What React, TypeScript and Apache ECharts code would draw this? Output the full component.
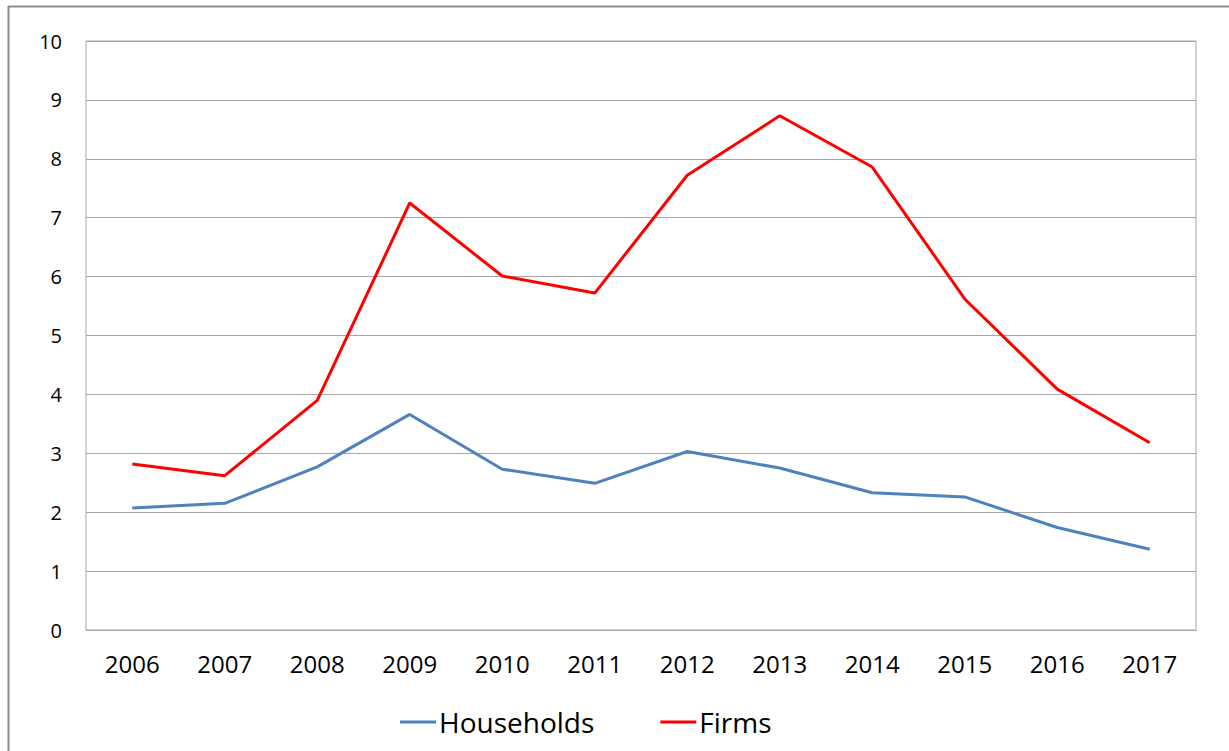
import React, { useEffect, useRef } from "react";
import * as echarts from "echarts";

const years = ["2006", "2007", "2008", "2009", "2010", "2011", "2012", "2013", "2014", "2015", "2016", "2017"];
const households = [2.07, 2.15, 2.77, 3.66, 2.73, 2.49, 3.03, 2.75, 2.33, 2.26, 1.74, 1.37];
const firms = [2.82, 2.62, 3.9, 7.25, 6.01, 5.72, 7.72, 8.73, 7.86, 5.62, 4.09, 3.18];

export default function App() {
  const ref = useRef<HTMLDivElement>(null);
  useEffect(() => {
    document.body.style.margin = "0";
    const chart = echarts.init(ref.current!, undefined, { renderer: "svg" });
    const font = "Open Sans";
    chart.setOption({
      animation: false,
      backgroundColor: "#ffffff",
      graphic: [
        { type: "line", shape: { x1: 8, y1: 6.5, x2: 1229, y2: 6.5 }, style: { stroke: "#8c8c8c", lineWidth: 2 } },
        { type: "line", shape: { x1: 8.5, y1: 6, x2: 8.5, y2: 751 }, style: { stroke: "#8c8c8c", lineWidth: 2 } },
      ],
      grid: {
        left: 86, right: 33, top: 41, bottom: 121,
        show: true, borderColor: "#a6a6a6", borderWidth: 1,
      },
      legend: {
        top: 703,
        left: 395,
        itemWidth: 36,
        itemHeight: 3,
        itemGap: 66,
        icon: "rect",
        textStyle: { fontFamily: font, fontSize: 28, color: "#000", padding: [0, 0, 0, -2] },
        data: ["Households", "Firms"],
      },
      xAxis: {
        type: "category",
        data: years,
        boundaryGap: true,
        axisLine: { lineStyle: { color: "#a6a6a6" } },
        axisTick: { show: false },
        axisLabel: { fontFamily: font, fontSize: 24, color: "#000", margin: 21 },
      },
      yAxis: {
        type: "value",
        min: 0, max: 10, interval: 1,
        axisLine: { show: false },
        axisTick: { show: false },
        splitLine: { lineStyle: { color: "#a6a6a6" } },
        axisLabel: { fontFamily: font, fontSize: 20, color: "#000", margin: 24 },
      },
      series: [
        { name: "Households", type: "line", data: households, symbol: "none", lineStyle: { color: "#4f81bd", width: 3 }, itemStyle: { color: "#4f81bd" } },
        { name: "Firms", type: "line", data: firms, symbol: "none", lineStyle: { color: "#ff0000", width: 3 }, itemStyle: { color: "#ff0000" } },
      ],
    });
    return () => chart.dispose();
  }, []);
  return <div ref={ref} style={{ position: "absolute", left: 0, top: 0, width: 1229, height: 751 }} />;
}
